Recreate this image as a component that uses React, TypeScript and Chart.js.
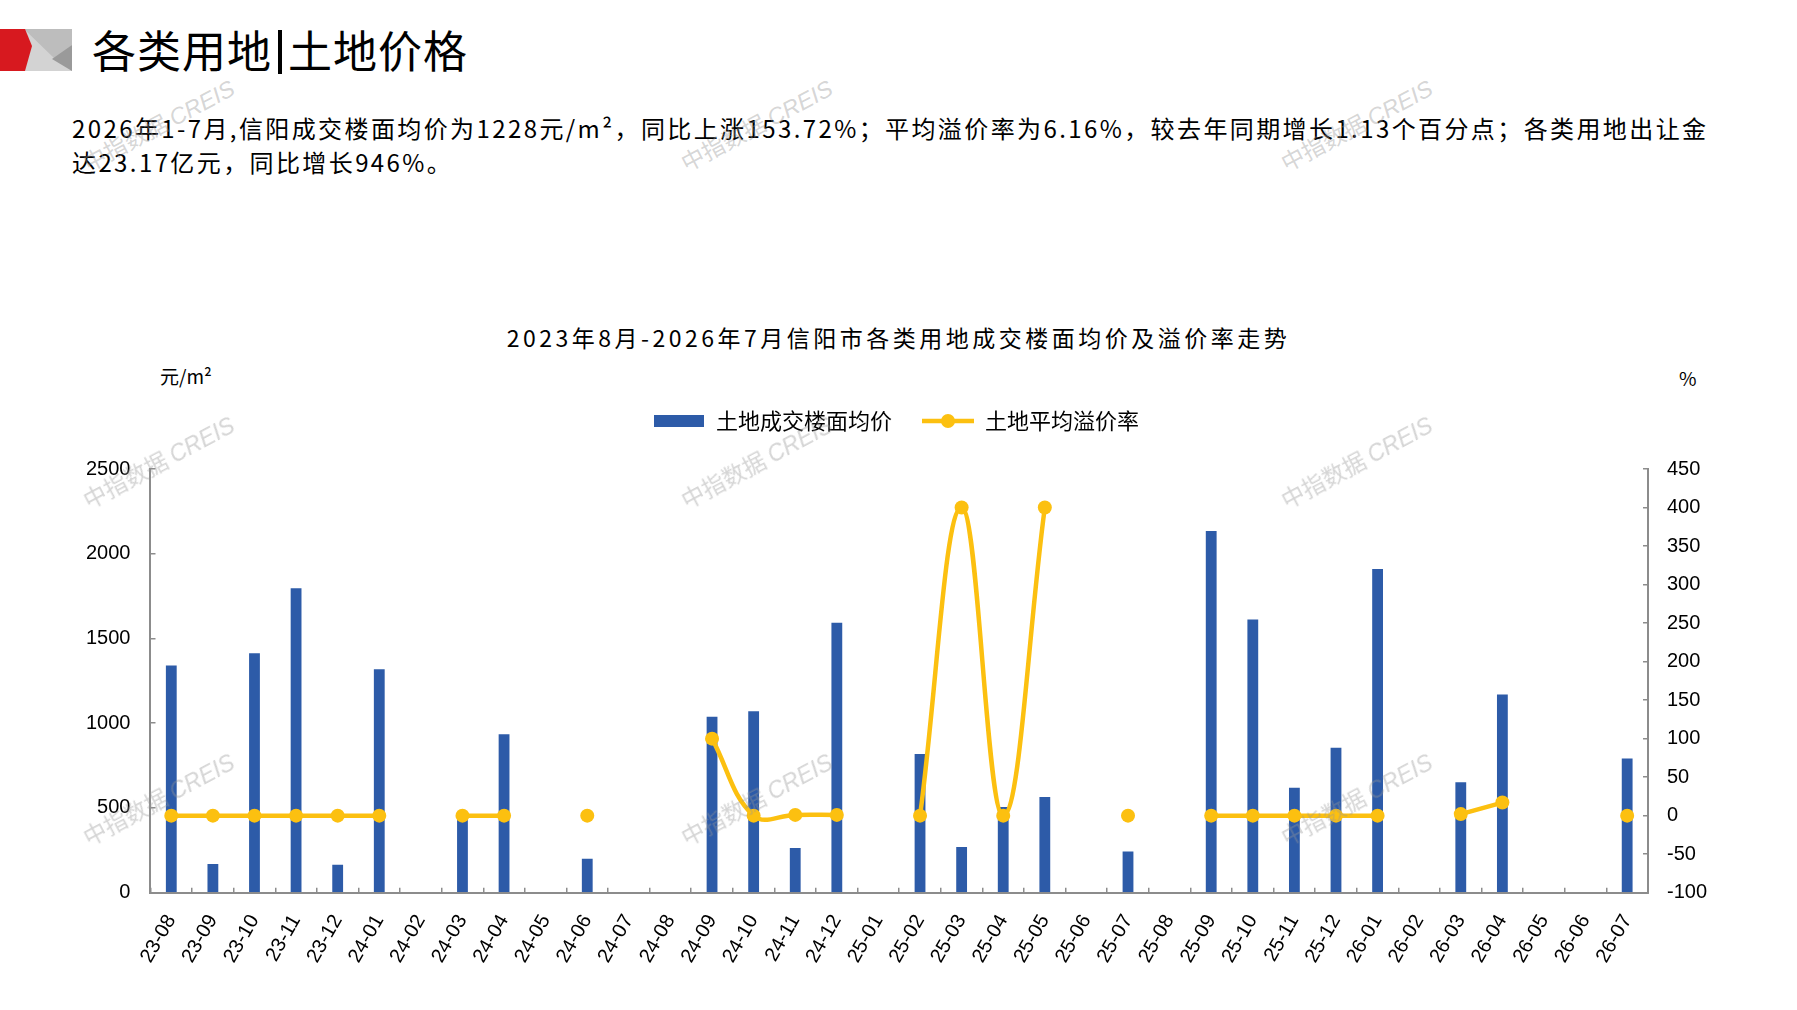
import { useEffect, useRef } from "react";
import { Chart, registerables } from "chart.js";

Chart.register(...registerables);

const months = [
  "23-08", "23-09", "23-10", "23-11", "23-12", "24-01", "24-02", "24-03", "24-04",
  "24-05", "24-06", "24-07", "24-08", "24-09", "24-10", "24-11", "24-12", "25-01",
  "25-02", "25-03", "25-04", "25-05", "25-06", "25-07", "25-08", "25-09", "25-10",
  "25-11", "25-12", "26-01", "26-02", "26-03", "26-04", "26-05", "26-06", "26-07"
];

// 土地成交楼面均价 (元/m²)
const landPrice = [
  1340, 169, 1413, 1797, 165, 1319, null, 452, 935,
  null, 200, null, null, 1038, 1070, 264, 1593, null,
  818, 270, 505, 564, null, 243, null, 2134, 1612,
  619, 856, 1910, null, 651, 1169, null, null, 792
];

// 土地平均溢价率 (%)
const premiumRate = [
  0, 0, 0, 0, 0, 0, null, 0, 0,
  null, 0, null, null, 100, 0, 1, 1, null,
  0, 400, 0, 400, null, 0, null, 0, 0,
  0, 0, 0, null, 2, 17, null, null, 0
];

const seriesNames = ["土地成交楼面均价", "土地平均溢价率"];

const BAR_COLOR = "#2D5BA8";
const LINE_COLOR = "#FCC010";
const AXIS_COLOR = "#8C8C8C";
const CJK = '"Noto Sans CJK SC", "Noto Sans", sans-serif';
const NUM = '"Liberation Sans", Arial, sans-serif';

const watermarks = [
  [158, 124], [756, 124], [1356, 124],
  [158, 461], [756, 461], [1356, 461],
  [158, 798], [756, 798], [1356, 798]
];

function barSwatch() {
  const c = document.createElement("canvas");
  c.width = 50;
  c.height = 12;
  const ctx = c.getContext("2d")!;
  ctx.fillStyle = BAR_COLOR;
  ctx.fillRect(0, 0, 50, 12);
  return c;
}

function lineSwatch() {
  const c = document.createElement("canvas");
  c.width = 52;
  c.height = 16;
  const ctx = c.getContext("2d")!;
  ctx.strokeStyle = LINE_COLOR;
  ctx.lineWidth = 4.5;
  ctx.beginPath();
  ctx.moveTo(0, 8);
  ctx.lineTo(52, 8);
  ctx.stroke();
  ctx.fillStyle = LINE_COLOR;
  ctx.beginPath();
  ctx.arc(26, 8, 7, 0, Math.PI * 2);
  ctx.fill();
  return c;
}

// extra room between the legend and the plot area
const legendGap = {
  id: "legendGap",
  beforeInit(chart: any) {
    const fit = chart.legend.fit;
    chart.legend.fit = function () {
      fit.call(this);
      this.height += 27;
    };
  }
};

function PriceChart() {
  const canvasRef = useRef<HTMLCanvasElement | null>(null);

  useEffect(() => {
    if (!canvasRef.current) {
      return;
    }
    const swatches = [barSwatch(), lineSwatch()];
    const tickFont = { family: NUM, size: 20 };
    const axisGrid = {
      drawOnChartArea: false,
      drawTicks: true,
      tickLength: -5,
      color: AXIS_COLOR,
      lineWidth: 1.5
    };
    const axisBorder = { color: AXIS_COLOR, width: 2 };

    const chart = new Chart(canvasRef.current, {
      data: {
        labels: months,
        datasets: [
          {
            type: "bar",
            label: seriesNames[0],
            data: landPrice,
            backgroundColor: BAR_COLOR,
            yAxisID: "y",
            barPercentage: 0.26,
            categoryPercentage: 1,
            order: 1
          },
          {
            type: "line",
            label: seriesNames[1],
            data: premiumRate,
            borderColor: LINE_COLOR,
            backgroundColor: LINE_COLOR,
            borderWidth: 4.5,
            tension: 0.4,
            spanGaps: false,
            pointRadius: 7,
            pointBorderWidth: 0,
            pointBackgroundColor: LINE_COLOR,
            yAxisID: "y1",
            order: 0
          }
        ]
      } as any,
      options: {
        responsive: true,
        maintainAspectRatio: false,
        animation: false,
        layout: { padding: { left: 61, right: 66, top: 0, bottom: 20 } },
        plugins: {
          tooltip: { enabled: false },
          legend: {
            position: "top",
            labels: {
              usePointStyle: true,
              pointStyleWidth: 52,
              padding: 30,
              color: "#000",
              font: { family: CJK, size: 22 },
              generateLabels: () =>
                seriesNames.map((name, i) => ({
                  text: name,
                  pointStyle: swatches[i],
                  fillStyle: i === 0 ? BAR_COLOR : LINE_COLOR,
                  strokeStyle: i === 0 ? BAR_COLOR : LINE_COLOR,
                  lineWidth: 0,
                  hidden: false,
                  datasetIndex: i,
                  fontColor: "#000"
                })) as any
            }
          }
        },
        scales: {
          x: {
            offset: true,
            grid: { ...axisGrid, offset: true },
            border: axisBorder,
            ticks: {
              autoSkip: false,
              minRotation: 60,
              maxRotation: 60,
              color: "#000",
              font: { family: NUM, size: 20 },
              padding: 23
            }
          },
          y: {
            position: "left",
            min: 0,
            max: 2500,
            grid: axisGrid,
            border: axisBorder,
            ticks: {
              stepSize: 500,
              color: "#000",
              font: tickFont,
              padding: 25,
              callback: (v: number) => String(v)
            }
          },
          y1: {
            position: "right",
            min: -100,
            max: 450,
            grid: axisGrid,
            border: axisBorder,
            ticks: {
              stepSize: 50,
              color: "#000",
              font: tickFont,
              padding: 24,
              callback: (v: number) => String(v)
            }
          }
        }
      } as any,
      plugins: [legendGap]
    });

    return () => chart.destroy();
  }, []);

  return (
    <div style={{ position: "absolute", left: 0, top: 380, width: 1797, height: 630 }}>
      <canvas ref={canvasRef} />
    </div>
  );
}

export default function App() {
  return (
    <div
      style={{
        position: "absolute",
        left: 0,
        top: 0,
        width: 1797,
        height: 1010,
        background: "#fff",
        overflow: "hidden",
        fontFamily: CJK,
        color: "#000"
      }}
    >
      <svg style={{ position: "absolute", left: 0, top: 29 }} width={72} height={42}>
        <rect x={20} y={0} width={52} height={42} fill="#D3D3D3" />
        <polygon points="24,0 72,0 72,16 55,30" fill="#BDBDBD" />
        <polygon points="72,16 52,30 72,42" fill="#9A9A9A" />
        <polygon points="0,0 25,0 32,17 25,42 0,42" fill="#D7191F" />
      </svg>
      <div
        style={{
          position: "absolute",
          left: 92,
          top: 26,
          fontSize: 44,
          lineHeight: "46px",
          letterSpacing: 1,
          whiteSpace: "nowrap"
        }}
      >
        各类用地
        <span
          style={{
            display: "inline-block",
            width: 4,
            height: 44,
            background: "#000",
            margin: "0 6px",
            verticalAlign: "-6px"
          }}
        />
        土地价格
      </div>
      <div
        style={{
          position: "absolute",
          left: 72,
          top: 111,
          fontSize: 24,
          lineHeight: "33.5px",
          letterSpacing: 2.4,
          whiteSpace: "nowrap"
        }}
      >
        2026年1-7月,信阳成交楼面均价为1228元/m²，同比上涨153.72%；平均溢价率为6.16%，较去年同期增长1.13个百分点；各类用地出让金
        <br />
        达23.17亿元，同比增长946%。
      </div>
      <div
        style={{
          position: "absolute",
          left: 0,
          width: 1797,
          top: 321,
          fontSize: 23,
          lineHeight: "32px",
          letterSpacing: 3.5,
          textAlign: "center",
          whiteSpace: "nowrap"
        }}
      >
        2023年8月-2026年7月信阳市各类用地成交楼面均价及溢价率走势
      </div>
      <div style={{ position: "absolute", left: 160, top: 364, fontSize: 19, lineHeight: "24px" }}>
        元/m²
      </div>
      <div style={{ position: "absolute", left: 1679, top: 366, fontSize: 19, lineHeight: "24px" }}>
        %
      </div>
      <PriceChart />
      {watermarks.map(([x, y], i) => (
        <div
          key={i}
          style={{
            position: "absolute",
            left: x - 100,
            top: y - 15,
            width: 200,
            height: 30,
            lineHeight: "30px",
            textAlign: "center",
            fontSize: 23,
            color: "rgba(150,150,150,0.4)",
            transform: "rotate(-28deg)",
            whiteSpace: "nowrap",
            pointerEvents: "none"
          }}
        >
          中指数据 <span style={{ fontFamily: NUM, fontStyle: "italic" }}>CREIS</span>
        </div>
      ))}
    </div>
  );
}
